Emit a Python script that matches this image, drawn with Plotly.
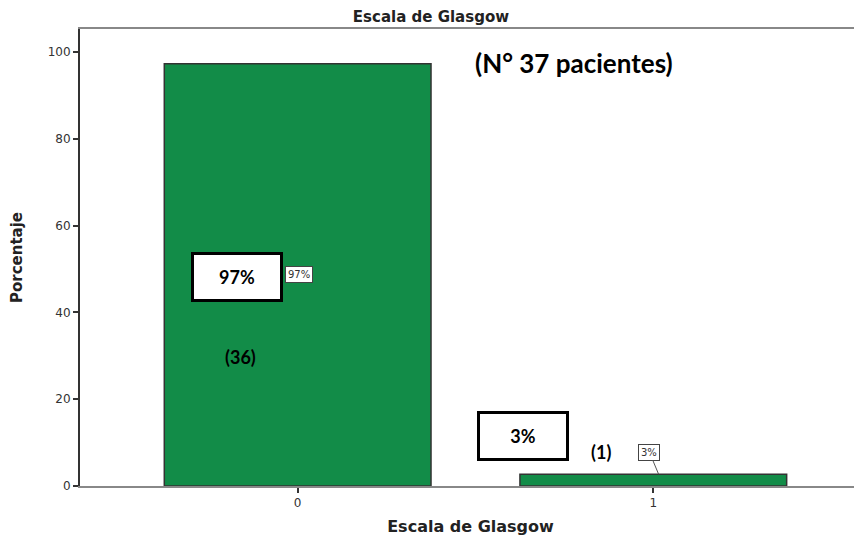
import plotly.graph_objects as go

# Data
categorias = ["0", "1"]
pacientes = [36, 1]
total = 37
porcentajes = [100 * p / total for p in pacientes]
etiquetas = [f"{round(v)}%" for v in porcentajes]

bar_color = "#128c48"
bold_font = "Lato, 'Open Sans', sans-serif"
axis_font = "'DejaVu Sans', Arial, sans-serif"

xs = [0, 1]
fig = go.Figure(go.Bar(
    x=xs, y=porcentajes, width=0.75,
    marker=dict(color=bar_color, line=dict(color="#333333", width=1.5)),
    hoverinfo="skip",
))

# small data labels (SPSS style)
fig.add_annotation(x=xs[0] + 0.005, y=porcentajes[0] / 2, text=etiquetas[0],
                   showarrow=False, bgcolor="white", bordercolor="#444444",
                   borderwidth=1, borderpad=2, font=dict(size=10, color="#333333", family=axis_font))
fig.add_annotation(x=xs[1] + 0.015, y=porcentajes[1], ax=xs[1] - 0.011, ay=7.8,
                   axref="x", ayref="y", text=etiquetas[1], showarrow=True,
                   arrowhead=0, arrowwidth=1, arrowcolor="#555555", standoff=0,
                   bgcolor="white", bordercolor="#444444", borderwidth=1, borderpad=2,
                   font=dict(size=10, color="#333333", family=axis_font))

# big boxed labels
fig.add_annotation(x=-0.171, y=48.2, text=f"<b>{etiquetas[0]}</b>", showarrow=False,
                   width=86, height=44, bgcolor="white", bordercolor="black",
                   borderwidth=3, borderpad=0, font=dict(size=18, color="black", family=bold_font))
fig.add_annotation(x=0.635, y=11.5, text=f"<b>{etiquetas[1]}</b>", showarrow=False,
                   width=86, height=44, bgcolor="white", bordercolor="black",
                   borderwidth=3, borderpad=0, font=dict(size=18, color="black", family=bold_font))

# counts
fig.add_annotation(x=-0.16, y=29.7, text=f"<b>({pacientes[0]})</b>", showarrow=False,
                   font=dict(size=18, color="black", family=bold_font))
fig.add_annotation(x=0.854, y=7.8, text=f"<b>({pacientes[1]})</b>", showarrow=False,
                   font=dict(size=18, color="black", family=bold_font))
fig.add_annotation(x=0.778, y=97.5, text=f"<b>(N° {total} pacientes)</b>", showarrow=False,
                   font=dict(size=26, color="black", family=bold_font))

# the page has an 8px body margin, so margins are shifted by 8px
fig.update_layout(
    width=862, height=540,
    margin=dict(l=72, r=9, t=21, b=62, autoexpand=False),
    plot_bgcolor="white", paper_bgcolor="white",
    showlegend=False,
    title=dict(text="<b>Escala de Glasgow</b>", x=0.4907, xref="container", xanchor="center",
               y=1, yanchor="top", pad=dict(t=3), automargin=False,
               font=dict(size=15, color="#222222", family=axis_font)),
    xaxis=dict(range=[-0.612, 1.584], tickvals=xs, ticktext=categorias, automargin=False,
               ticks="outside", ticklen=5, tickcolor="#333333", tickwidth=2,
               showline=True, linecolor="#888888", linewidth=1.5, mirror=True,
               showgrid=False, zeroline=False,
               tickfont=dict(size=12, color="#333333", family=axis_font),
               title=dict(text="<b>Escala de Glasgow</b>", standoff=12,
                          font=dict(size=16, color="#222222", family=axis_font))),
    yaxis=dict(range=[0, 105.3], tickvals=[0, 20, 40, 60, 80, 100], automargin=False,
               ticks="outside", ticklen=5, tickcolor="#333333", tickwidth=2,
               showline=True, linecolor="#333333", linewidth=2,
               showgrid=False, zeroline=False,
               tickfont=dict(size=12, color="#333333", family=axis_font),
               title=dict(text="<b>Porcentaje</b>", standoff=30,
                          font=dict(size=15, color="#222222", family=axis_font))),
)

fig.write_html("out.html")
